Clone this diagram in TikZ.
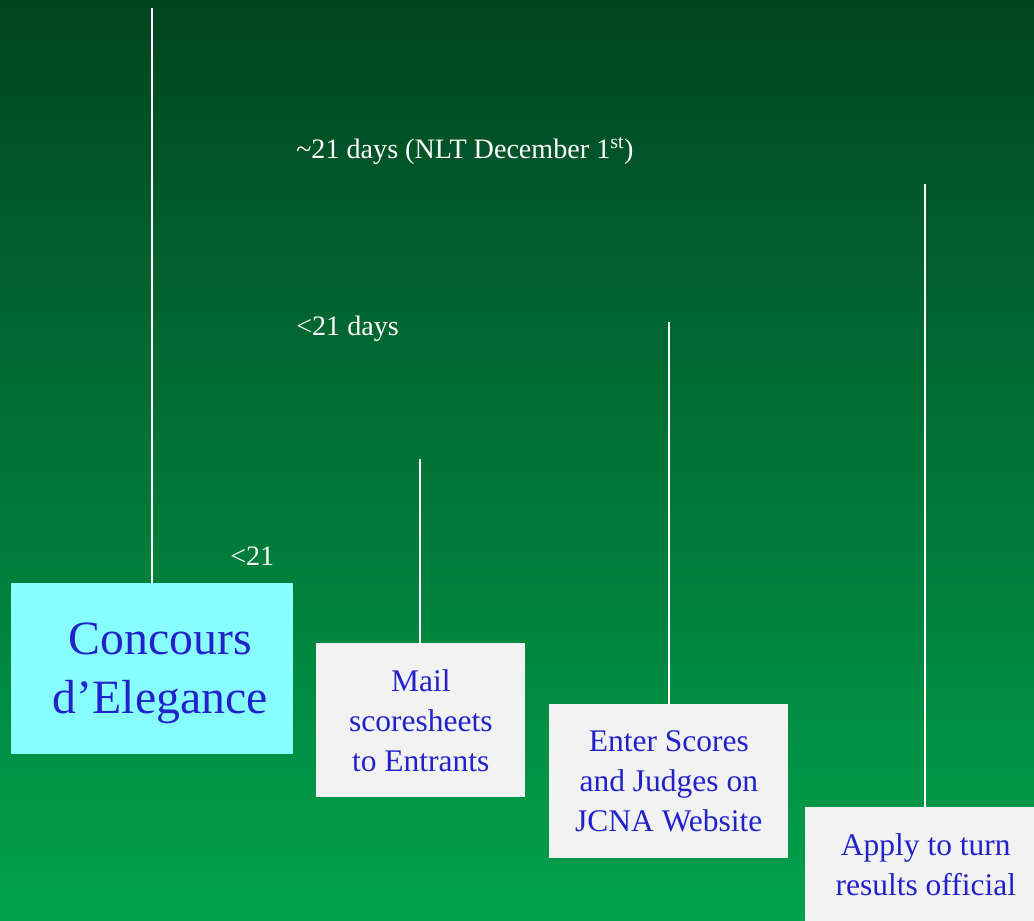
\documentclass[tikz,border=0pt]{standalone}
\usepackage{fontspec}
\setmainfont{Liberation Serif}
\usetikzlibrary{positioning}
\definecolor{verdeTopo}{RGB}{  1,  69,  32}
\definecolor{verdeBase}{RGB}{  0, 162,  76}
\definecolor{corCiano}{RGB}{136, 255, 255}
\definecolor{corCinza}{RGB}{242, 242, 242}
\definecolor{corTexto}{RGB}{ 34,  34, 204}

\tikzset{
  caixa/.style={anchor=north west, inner sep=0pt, align=center,
                text=corTexto, fill=corCinza},
  linha/.style={white, line width=1.3pt},
  rotulo/.style={anchor=west, inner sep=0pt, text=white,
                 font=\fontsize{20}{24}\selectfont}
}

\begin{document}
\begin{tikzpicture}[x=0.025cm, y=-0.025cm]

  %% ================================================================
  %%  FUNDO — gradiente verde
  %% ================================================================
  \shade[top color=verdeTopo, bottom color=verdeBase]
    (0,0) rectangle (1034,921);
  \useasboundingbox (0,0) rectangle (1034,921);

  %% ================================================================
  %%  CAIXAS
  %% ================================================================
  \node[caixa, fill=corCiano, minimum width=7.05cm, minimum height=4.275cm,
        font=\fontsize{34}{42.5}\selectfont]
        (concurso) at (11,583)
        {\rule{0pt}{29pt}\hspace*{0.4cm}Concours\\\hspace*{0.4cm}d’Elegance};

  \node[caixa, minimum width=5.225cm, minimum height=3.85cm,
        font=\fontsize{22.4}{28.4}\selectfont]
        (correio) at (316,643) {Mail\\scoresheets\\to Entrants};

  \node[caixa, minimum width=5.975cm, minimum height=3.85cm,
        font=\fontsize{22.4}{28.4}\selectfont]
        (pontos) at (549,704) {Enter Scores\\and Judges on\\JCNA Website};

  \node[caixa, minimum width=5.725cm, minimum height=2.85cm,
        font=\fontsize{22.4}{28.4}\selectfont]
        (oficial) at (805,807)
        {\hspace*{0.3cm}Apply to turn\\\hspace*{0.3cm}results official};

  %% ================================================================
  %%  LINHAS VERTICAIS
  %% ================================================================
  \coordinate (topoConcurso) at (152,8);
  \coordinate (topoCorreio)  at (420,459);
  \coordinate (topoPontos)   at (669,322);
  \coordinate (topoOficial)  at (925,184);

  \draw[linha] (concurso.north -| topoConcurso) -- (topoConcurso);
  \draw[linha] (correio.north -| topoCorreio)   -- (topoCorreio);
  \draw[linha] (pontos.north -| topoPontos)     -- (topoPontos);
  \draw[linha] (oficial.north -| topoOficial)   -- (topoOficial);

  %% ================================================================
  %%  PRAZOS
  %% ================================================================
  \node[rotulo] (prazoTotal) at (296,151)
        {\textasciitilde21 days (NLT December 1\textsuperscript{st})};
  \node[rotulo] (prazoSite)  at (296,329) {<21 days};
  \node[rotulo] (prazoMail)  at (230,556) {<21};

\end{tikzpicture}
\end{document}
